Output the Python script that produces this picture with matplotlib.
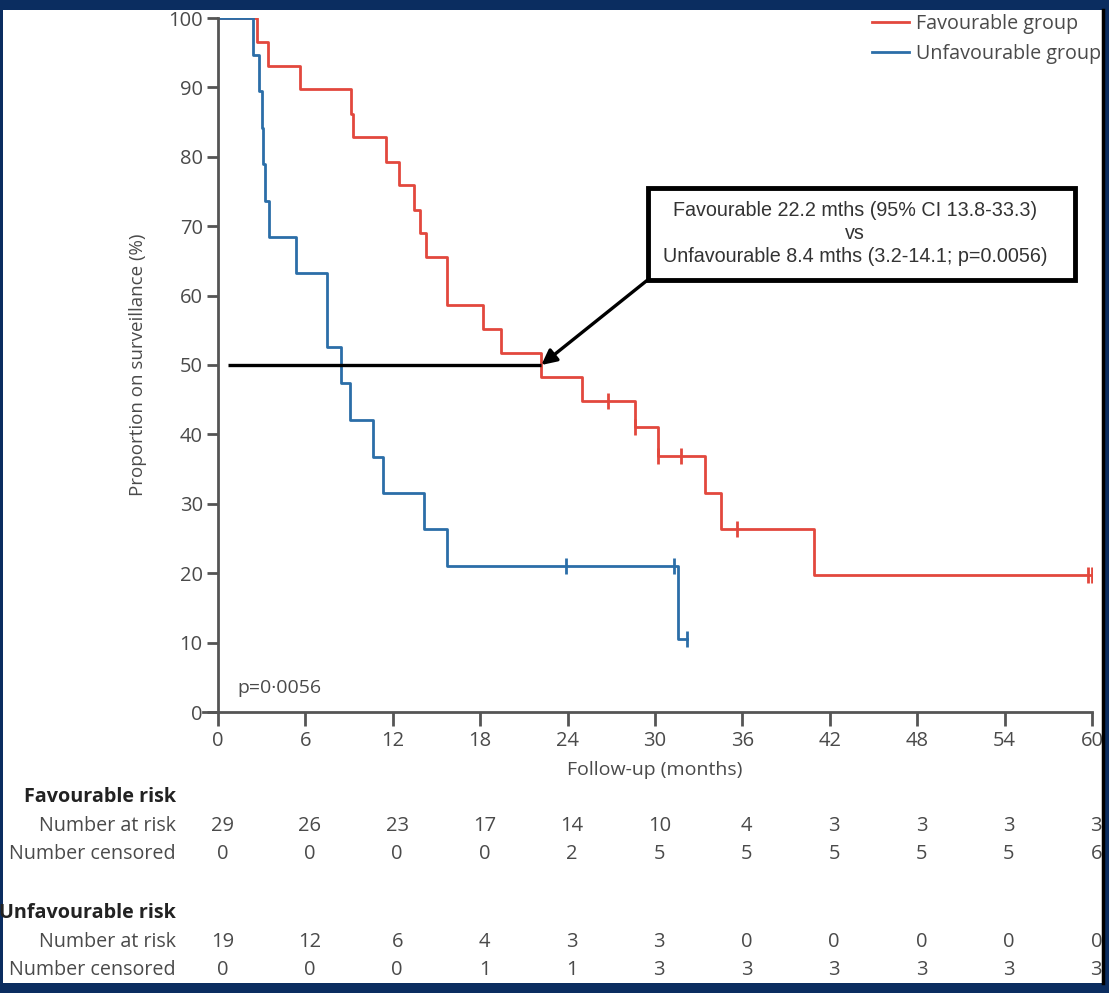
import matplotlib
matplotlib.use("Agg")
import matplotlib.pyplot as plt
import matplotlib.patches as patches
from matplotlib.transforms import blended_transform_factory

# Kaplan-Meier steps (months, % on surveillance)
fav_t = [0, 2.66, 3.43, 5.63, 9.15, 9.25, 11.5, 12.4, 13.45, 13.9, 14.3, 15.7,
         18.2, 19.4, 22.2, 25.0, 28.6, 30.2, 33.4, 34.5, 40.9, 60]
fav_s = [100, 96.6, 93.1, 89.7, 86.2, 82.8, 79.3, 75.9, 72.4, 69.0, 65.5, 58.6,
         55.2, 51.7, 48.3, 44.8, 41.0, 36.9, 31.6, 26.4, 19.8, 19.8]
fav_cens_t = [26.8, 28.6, 30.2, 31.8, 35.6, 59.7, 60]
fav_cens_s = [44.8, 41.0, 36.9, 36.9, 26.4, 19.8, 19.8]

unf_t = [0, 2.42, 2.84, 3.0, 3.12, 3.25, 3.5, 5.33, 7.46, 8.44, 9.06, 10.66,
         11.3, 14.14, 15.74, 31.6, 32.2]
unf_s = [100, 94.7, 89.5, 84.2, 78.9, 73.7, 68.4, 63.2, 52.6, 47.4, 42.1, 36.8,
         31.6, 26.3, 21.1, 10.5, 10.5]
unf_cens_t = [23.9, 31.3, 32.2]
unf_cens_s = [21.1, 21.1, 10.5]

# risk table
months = [0, 6, 12, 18, 24, 30, 36, 42, 48, 54, 60]
fav_at_risk = [29, 26, 23, 17, 14, 10, 4, 3, 3, 3, 3]
fav_censored = [0, 0, 0, 0, 2, 5, 5, 5, 5, 5, 6]
unf_at_risk = [19, 12, 6, 4, 3, 3, 0, 0, 0, 0, 0]
unf_censored = [0, 0, 0, 1, 1, 3, 3, 3, 3, 3, 3]

median_fav = 22.2
box_lines = ["Favourable 22.2 mths (95% CI 13.8-33.3)",
             "vs",
             "Unfavourable 8.4 mths (3.2-14.1; p=0.0056)"]

RED = "#e2483d"
BLUE = "#2b6ea8"
GREY = "#4a4a4a"
NAVY = "#0b2d60"
FONT = ["Open Sans", "DejaVu Sans"]

plt.rcParams['font.family'] = FONT

W, H = 1109, 993
fig = plt.figure(figsize=(W / 100, H / 100), dpi=100)
fig.patch.set_facecolor(NAVY)
# white panel inside the navy frame
fig.add_artist(patches.Rectangle((3 / W, 1 - 983 / H), 1100 / W, 973 / H,
                                 transform=fig.transFigure, facecolor="white",
                                 edgecolor="none", zorder=-10))
fig.add_artist(plt.Line2D([1103 / W, 1103 / W], [1 - 983 / H, 1 - 10 / H],
                          transform=fig.transFigure, color="black", lw=2.5))

ax = fig.add_axes([218 / W, 1 - 712 / H, 874 / W, 694 / H])
ax.set_facecolor("none")

ax.plot(fav_t, fav_s, drawstyle="steps-post", color=RED, lw=2, label="Favourable group")
ax.plot(unf_t, unf_s, drawstyle="steps-post", color=BLUE, lw=2, label="Unfavourable group")
ax.plot(fav_cens_t, fav_cens_s, ls="none", marker="|", ms=11, mew=2, color=RED)
ax.plot(unf_cens_t, unf_cens_s, ls="none", marker="|", ms=11, mew=2, color=BLUE)

ax.set_xlim(0, 60)
ax.set_ylim(0, 100)
ax.set_xticks(months)
ax.set_yticks(range(0, 101, 10))
for s in ["top", "right"]:
    ax.spines[s].set_visible(False)
for s in ["left", "bottom"]:
    ax.spines[s].set_color("#555555")
    ax.spines[s].set_linewidth(2)
ax.spines["bottom"].set_bounds(-1.0, 60)
ax.tick_params(axis="both", colors="#555555", width=2, labelcolor=GREY, labelsize=14.5)
ax.tick_params(axis="y", length=8, pad=3)
ax.tick_params(axis="x", length=10, pad=4)

ax.set_xlabel("Follow-up (months)", fontsize=14, color=GREY, labelpad=7)
ax.set_ylabel("Proportion on surveillance (%)", fontsize=13.5, color=GREY, labelpad=15)

ax.text(1.3, 3.5, "p=0\u00b70056", fontsize=14, color=GREY, va="center")

# median line + annotation box
ax.plot([0.7, median_fav], [50, 50], color="black", lw=2.4, solid_capstyle="butt")
ax.add_patch(patches.Rectangle((0.492, 0.6225), 0.4885, 0.133, transform=ax.transAxes,
                               facecolor="white", edgecolor="black", lw=3.5, zorder=5))
for ln, yy in zip(box_lines, [0.7233, 0.689, 0.656]):
    ax.text(0.729, yy, ln, transform=ax.transAxes, ha="center", va="center",
            fontsize=14.2, color="#333333", family=["Liberation Sans", "DejaVu Sans"],
            zorder=6)
ax.annotate("", xy=(median_fav, 50), xycoords="data",
            xytext=(0.4925, 0.6235), textcoords="axes fraction",
            arrowprops=dict(arrowstyle="-|>,head_length=0.9,head_width=0.45",
                            color="black", lw=2.4, shrinkA=0, shrinkB=0))

leg = ax.legend(loc="upper left", bbox_to_anchor=(872 / W, 1 - 14 / H),
                bbox_transform=fig.transFigure, frameon=False, fontsize=14.2,
                handlelength=1.9, handletextpad=0.35, labelspacing=0.5,
                borderaxespad=0, borderpad=0)
for t in leg.get_texts():
    t.set_color(GREY)

# risk table
tr = blended_transform_factory(ax.transData, fig.transFigure)
rows = [("Favourable risk", None, 797, True),
        ("Number at risk", fav_at_risk, 826, False),
        ("Number censored", fav_censored, 854, False),
        ("Unfavourable risk", None, 913, True),
        ("Number at risk", unf_at_risk, 942, False),
        ("Number censored", unf_censored, 970, False)]
for label, vals, ypx, bold in rows:
    fig.text(176 / W, 1 - ypx / H, label, ha="right", va="center", fontsize=14.2,
             color="#222222" if bold else GREY, weight="bold" if bold else "normal")
    if vals is not None:
        for m, v in zip(months, vals):
            ax.text(m + 0.3, 1 - ypx / H, str(v), transform=tr, ha="center",
                    va="center", fontsize=14.5, color=GREY, clip_on=False)

fig.savefig("out.png", dpi=100, facecolor=fig.get_facecolor())
